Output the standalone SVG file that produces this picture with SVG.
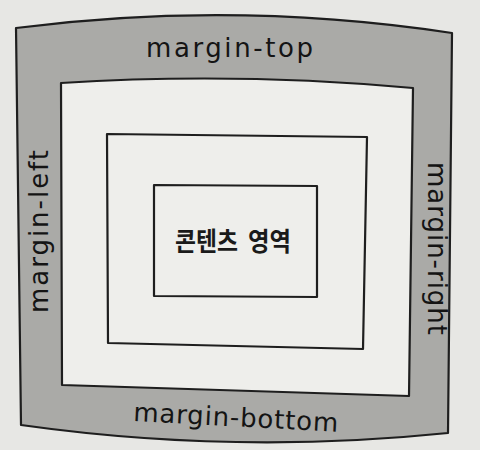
<svg xmlns="http://www.w3.org/2000/svg" width="480" height="450" viewBox="0 0 480 450">
  <style>
    .edge { stroke: #1e1e1e; stroke-width: 2.2; stroke-linejoin: round; }
    .label { font-family: "DejaVu Sans", "Noto Sans", sans-serif; font-size: 26px; fill: #141414; }
    .content { font-family: "Noto Sans CJK KR", "Noto Sans", sans-serif; font-size: 26px; font-weight: bold; fill: #1a1a1a; }
  </style>
  <rect x="0" y="0" width="480" height="450" fill="#e7e7e4"/>
  <g id="margin-area">
    <path class="edge" fill="#aaaaa7" d="M16,28 Q234,0 452,33 L448,433 Q234,455 21,425 Z"/>
    <text class="label" x="146" y="57" textLength="167" lengthAdjust="spacing">margin-top</text>
    <text class="label" x="133" y="421" textLength="205" lengthAdjust="spacing" transform="rotate(3 133 421)">margin-bottom</text>
    <text class="label" transform="translate(48,313) rotate(-90)" textLength="163" lengthAdjust="spacing">margin-left</text>
    <text class="label" transform="translate(428,162) rotate(90)" textLength="173" lengthAdjust="spacing">margin-right</text>
  </g>
  <g id="border-box">
    <path class="edge" fill="#eeeeeb" stroke-width="2.6" d="M61,83 Q237,72 413,88 L409,396 L62,385 Z"/>
  </g>
  <g id="padding-box">
    <path class="edge" fill="#eeeeeb" d="M107,134 L367,137 L363,349 L108,343 Z"/>
  </g>
  <g id="content-box">
    <path class="edge" fill="#eeeeeb" d="M154,185 L317,186 L317,297 L154,296 Z"/>
    <text class="content" x="175" y="251" textLength="63" lengthAdjust="spacingAndGlyphs">콘텐츠</text>
    <text class="content" x="248" y="251" textLength="43" lengthAdjust="spacingAndGlyphs">영역</text>
  </g>
</svg>
